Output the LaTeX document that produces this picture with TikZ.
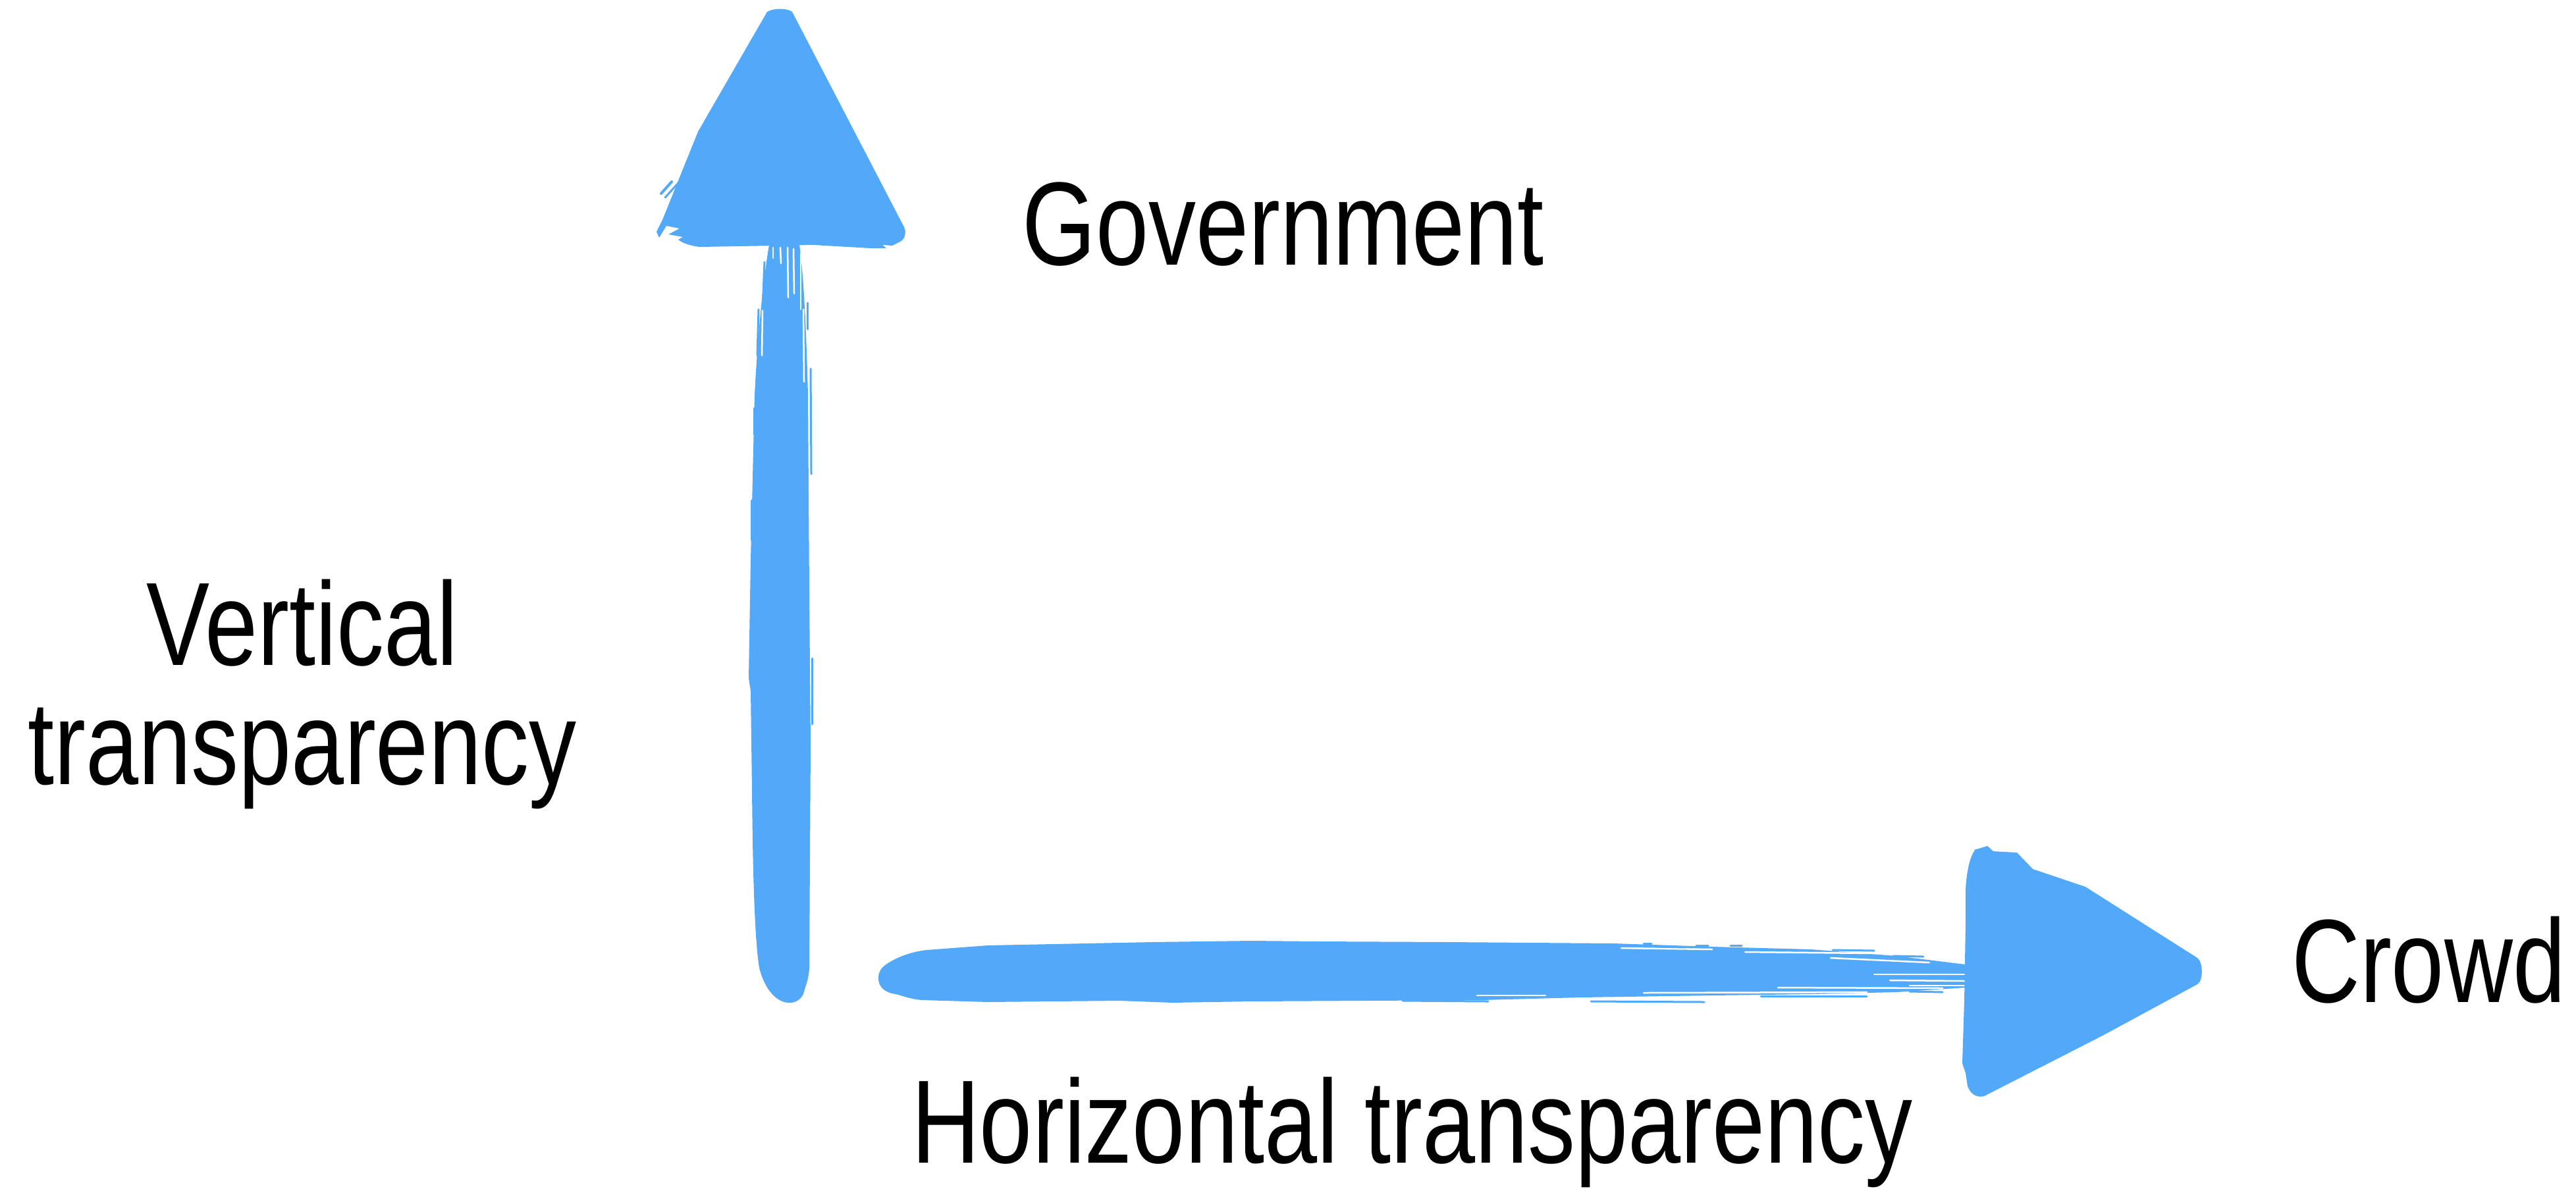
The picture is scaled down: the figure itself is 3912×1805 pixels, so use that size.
\documentclass[tikz,border=0pt]{standalone}
\usepackage{fontspec}
\setmainfont{Liberation Sans}[FakeStretch=0.80]
\definecolor{brushblue}{RGB}{82,168,249}
\begin{document}
\begin{tikzpicture}[x=1pt,y=-1pt,
  brush/.style={fill=brushblue,draw=none},
  streak/.style={draw=brushblue,line width=3pt,line cap=round},
  gap/.style={draw=white,line width=2.5pt,line cap=round},
  lab/.style={inner sep=0pt,outer sep=0pt,text=black,font=\fontsize{180}{181}\selectfont}]
\useasboundingbox[fill=white] (0,0) rectangle (3912,1805);

% ---------- vertical arrow: head ----------
\fill[brush] (1165,18) .. controls (1175,12) and (1195,12) .. (1203,18)
  -- (1373,345) .. controls (1377,353) and (1374,364) .. (1367,367)
  -- (1355,373) -- (1340,372) -- (1346,377) -- (1322,377) -- (1235,372)
  -- (1180,373) -- (1063,375)
  .. controls (1045,373) and (1035,368) .. (1030,364)
  -- (1037,360) -- (1015,356) -- (1032,347) -- (1012,343) -- (1001,361)
  -- (997,352) -- (1006,334) -- (1060,200) -- cycle;
\draw[streak,line width=4pt] (1004,294) -- (1020,276);
\draw[streak,line width=3pt] (1010,300) -- (1030,278);

% ---------- vertical arrow: shaft ----------
\fill[brush] (1168,372) -- (1214,372)
  .. controls (1221,420) and (1225,520) .. (1227,600)
  -- (1229,900) -- (1231,1130) -- (1229,1470)
  .. controls (1228,1490) and (1222,1500) .. (1220,1510)
  .. controls (1215,1520) and (1205,1524) .. (1197,1523)
  .. controls (1180,1522) and (1162,1505) .. (1153,1470)
  .. controls (1145,1420) and (1143,1300) .. (1142,1200)
  -- (1140,1050) -- (1137,1030) -- (1140,850) -- (1146,600)
  .. controls (1150,520) and (1158,430) .. (1168,372) -- cycle;
% brush texture near the head
\draw[gap] (1174,376) -- (1174,392);
\draw[gap] (1185,376) -- (1186,400);
\draw[gap] (1196,376) -- (1197,452);
\draw[gap] (1205,378) -- (1206,446);
\draw[gap] (1216,385) -- (1216,470);
\draw[gap] (1220,470) -- (1221,580);
\draw[gap] (1158,470) -- (1157,540);
\draw[streak] (1161,398) -- (1158,470);
\draw[streak] (1152,470) -- (1150,540);
\draw[streak] (1226,460) -- (1226,500);
\draw[streak] (1231,560) -- (1232,720);
\draw[streak] (1145,620) -- (1145,660);
\draw[streak] (1141,760) -- (1141,820);
\draw[streak] (1233,1000) -- (1233,1100);

% ---------- horizontal arrow: shaft ----------
\fill[brush] (1360,1510) .. controls (1345,1508) and (1335,1500) .. (1334,1488)
  .. controls (1333,1475) and (1340,1468) .. (1350,1462)
  .. controls (1370,1450) and (1390,1445) .. (1407,1443)
  -- (1500,1436) -- (1750,1431) -- (1900,1429) -- (2000,1430) -- (2200,1431)
  -- (2450,1433) -- (2600,1438) -- (2750,1442) -- (2880,1452) -- (2985,1465)
  -- (2985,1500) -- (2880,1507) -- (2750,1510) -- (2600,1512) -- (2400,1515)
  -- (2250,1519) -- (1900,1521) -- (1780,1523) -- (1700,1520) -- (1500,1522)
  -- (1400,1519) .. controls (1385,1518) and (1372,1513) .. (1360,1510) -- cycle;
% brush texture near the head
\draw[gap] (2462,1440) -- (2600,1442);
\draw[gap] (2650,1446) -- (2846,1448);
\draw[gap] (2780,1455) -- (2930,1462);
\draw[gap] (2846,1480) -- (2984,1480);
\draw[gap] (2870,1489) -- (2984,1490);
\draw[gap] (2900,1497) -- (2984,1497);
\draw[gap] (2243,1512) -- (2347,1512);
\draw[gap] (2496,1508) -- (2835,1507);
\draw[gap] (2700,1500) -- (2950,1501);
\draw[streak] (2496,1433) -- (2508,1433);
\draw[streak] (2519,1438) -- (2559,1439);
\draw[streak] (2576,1436) -- (2594,1436);
\draw[streak] (2628,1436) -- (2645,1436);
\draw[streak] (2783,1443) -- (2846,1444);
\draw[streak] (2875,1452) -- (2921,1453);
\draw[streak] (2416,1521) -- (2588,1522);
\draw[streak] (2674,1513) -- (2835,1513);
\draw[streak] (2900,1506) -- (2950,1507);
\draw[streak] (2130,1520) -- (2260,1521);

% ---------- horizontal arrow: head ----------
\fill[brush] (3000,1290) -- (2998,1291) -- (3018,1285) -- (3027,1293)
  -- (3063,1295) -- (3087,1320) -- (3167,1347) -- (3337,1455)
  .. controls (3346,1462) and (3346,1490) .. (3337,1495)
  -- (3193,1573) -- (3013,1665)
  .. controls (3000,1668) and (2992,1660) .. (2988,1650)
  -- (2985,1630) -- (2980,1615) -- (2983,1520) -- (2985,1400) -- (2985,1350)
  .. controls (2987,1320) and (2992,1300) .. (3000,1290) -- cycle;

% ---------- labels ----------
\node[lab,anchor=base west] (gov) at (1552,402) {Government};
\node[lab,anchor=base west] (crowd) at (3480,1522) {Crowd};
\node[lab,anchor=center,align=center] (vert) at (459,1054) {Vertical\\transparency};
\node[lab,anchor=base west] (horiz) at (1384,1766) {Horizontal transparency};
\end{tikzpicture}
\end{document}
